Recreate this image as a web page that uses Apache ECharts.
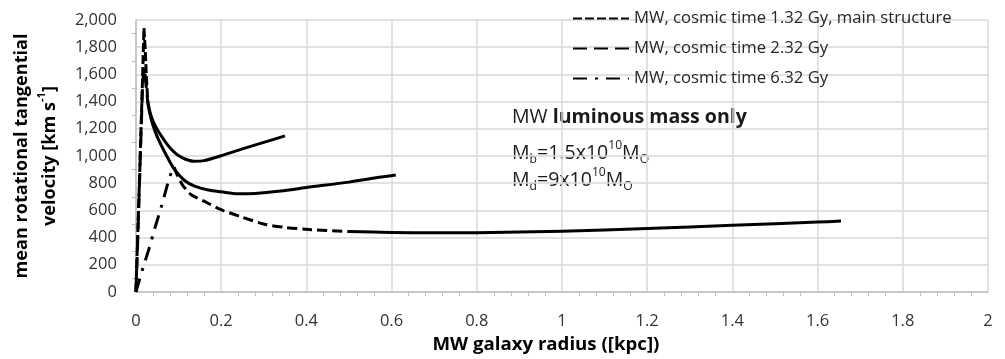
<!DOCTYPE html>
<html>
<head>
<meta charset="utf-8">
<script src="https://cdn.jsdelivr.net/npm/echarts@6/dist/echarts.min.js"></script>
<style>
html,body{margin:0;padding:0;background:#fff;}
#chart{width:1005px;height:359px;}
</style>
</head>
<body>
<div id="chart"></div>
<script>
// ---------- data ----------
const seriesNames = [
  'MW, cosmic time 1.32 Gy, main structure',
  'MW, cosmic time 2.32 Gy',
  'MW, cosmic time 6.32 Gy'
];
// 1.32 Gy
const r132 = [0, 0.005, 0.010, 0.015, 0.019, 0.022, 0.025, 0.028, 0.033, 0.040, 0.050, 0.061, 0.070, 0.080, 0.090, 0.100, 0.115, 0.136, 0.160, 0.200, 0.250, 0.300, 0.350];
const v132 = [0, 480, 980, 1500, 1940, 1780, 1560, 1400, 1325, 1258, 1195, 1142, 1100, 1060, 1028, 1003, 978, 962, 966, 1002, 1052, 1100, 1148];
// 2.32 Gy
const r232 = [0, 0.004, 0.008, 0.012, 0.016, 0.020, 0.024, 0.028, 0.033, 0.040, 0.050, 0.061, 0.075, 0.091, 0.115, 0.138, 0.170, 0.200, 0.240, 0.280, 0.340, 0.400, 0.500, 0.576, 0.610];
const v232 = [0, 350, 750, 1150, 1550, 1650, 1520, 1390, 1310, 1228, 1142, 1070, 985, 900, 818, 778, 750, 737, 723, 725, 742, 768, 808, 845, 860];
// 6.32 Gy
const r632 = [0, 0.014, 0.030, 0.042, 0.061, 0.075, 0.084, 0.090, 0.097, 0.108, 0.115, 0.130, 0.160, 0.200, 0.250, 0.300, 0.350, 0.405, 0.500, 0.600, 0.700, 0.800, 1.000, 1.200, 1.400, 1.600, 1.655];
const v632 = [0, 150, 310, 443, 640, 800, 887, 918, 862, 795, 764, 715, 668, 605, 550, 500, 475, 460, 445, 438, 435, 436, 447, 466, 491, 514, 522];

const xTickLabels = ['0', '0.2', '0.4', '0.6', '0.8', '1', '1.2', '1.4', '1.6', '1.8', '2'];
const yTickLabels = ['0', '200', '400', '600', '800', '1,000', '1,200', '1,400', '1,600', '1,800', '2,000'];

// ---------- helpers ----------
const FAM = "'Open Sans'";
const cv = document.createElement('canvas').getContext('2d');
function fit(parts, target) {
  let w = 0;
  parts.forEach(p => { cv.font = p[1] + ' 100px ' + FAM; w += cv.measureText(p[0]).width; });
  return 100 * target / w;
}
function seg(xs, ys, a, b) {
  const out = [];
  for (let i = a; i <= b; i++) out.push([xs[i], ys[i]]);
  return out;
}

const tickFS = fit([['2,000', 'normal']], 42);
const yNameFS = fit([['mean rotational tangential', 'bold']], 245);
const xNameFS = fit([['MW galaxy radius ([kpc])', 'bold']], 227);
const legFS = fit([[seriesNames[0], 'normal']], 318);
const annFS = fit([['MW ', 'normal'], ['luminous mass only', 'bold']], 235);

const LW = 3;
function lineSeries(name, data, type, smooth) {
  return {
    name: name, type: 'line', data: data, symbol: 'none', showSymbol: false,
    smooth: smooth ? 0.3 : false,
    lineStyle: { color: '#000', width: LW, type: type, cap: 'butt', join: 'round' },
    itemStyle: { color: '#000' },
    emphasis: { disabled: true }, silent: true, animation: false
  };
}

const series = [
  lineSeries(seriesNames[0], seg(r132, v132, 0, 7), [9, 3], false),
  lineSeries(seriesNames[0], seg(r132, v132, 7, r132.length - 1), 'solid', true),
  lineSeries(seriesNames[1], seg(r232, v232, 0, 7), [14, 7], false),
  lineSeries(seriesNames[1], seg(r232, v232, 7, r232.length - 1), 'solid', true),
  lineSeries(seriesNames[2], seg(r632, v632, 0, 7), [14, 8, 3, 8], false),
  lineSeries(seriesNames[2], seg(r632, v632, 7, 18), [10, 5], true),
  lineSeries(seriesNames[2], seg(r632, v632, 18, r632.length - 1), 'solid', true)
];

const chart = echarts.init(document.getElementById('chart'), null, { renderer: 'canvas' });
chart.setOption({
  animation: false,
  backgroundColor: '#fff',
  textStyle: { fontFamily: FAM },
  grid: { left: 134, right: 17, top: 20, bottom: 64, containLabel: false },
  legend: {
    orient: 'vertical', left: 567, top: 5,
    itemWidth: 56, itemHeight: 14, itemGap: 13,
    selectedMode: false,
    itemStyle: { opacity: 0, color: 'rgba(0,0,0,0)', borderWidth: 0 },
    textStyle: { fontFamily: FAM, fontSize: legFS, color: '#262626' },
    data: seriesNames
  },
  xAxis: {
    type: 'value', min: 0, max: 2, interval: 0.2,
    axisLine: { show: true, lineStyle: { color: '#bfbfbf', width: 1.5 } },
    axisTick: { show: false },
    minorTick: { show: true, splitNumber: 5, length: 4, lineStyle: { color: '#bfbfbf', width: 1 } },
    splitLine: { show: true, lineStyle: { color: '#d9d9d9', width: 1.5 } },
    axisLabel: {
      margin: 21, fontFamily: FAM, fontSize: tickFS, color: '#333',
      formatter: v => xTickLabels[Math.round(v / 0.2)]
    },
    name: 'MW galaxy radius ([kpc])', nameLocation: 'middle', nameGap: 43,
    nameTextStyle: { fontFamily: FAM, fontWeight: 'bold', fontSize: xNameFS, color: '#000', padding: [0, 32, 0, 0] }
  },
  yAxis: {
    type: 'value', min: 0, max: 2000, interval: 200,
    axisLine: { show: true, lineStyle: { color: '#bfbfbf', width: 1.5 } },
    axisTick: { show: false },
    minorTick: { show: true, splitNumber: 2, length: 4, lineStyle: { color: '#bfbfbf', width: 1 } },
    splitLine: { show: true, lineStyle: { color: '#d9d9d9', width: 1.5 } },
    axisLabel: {
      margin: 19, fontFamily: FAM, fontSize: tickFS, color: '#333',
      formatter: v => yTickLabels[Math.round(v / 200)]
    },
    name: 'mean rotational tangential\nvelocity [km s{sup|-1}]',
    nameLocation: 'middle', nameRotate: 90, nameGap: 60,
    nameTextStyle: {
      fontFamily: FAM, fontWeight: 'bold', fontSize: yNameFS, color: '#000', lineHeight: 28,
      rich: { sup: { fontFamily: FAM, fontWeight: 'bold', fontSize: yNameFS * 0.62, verticalAlign: 'top', lineHeight: 28, color: '#000' } }
    }
  },
  graphic: [
    {
      type: 'text', x: 512, y: 117, silent: true,
      style: {
        text: '{n|MW }{b|luminous mass only}', verticalAlign: 'middle', align: 'left',
        rich: {
          n: { fontFamily: FAM, fontSize: annFS, fill: '#1a1a1a' },
          b: { fontFamily: FAM, fontSize: annFS, fontWeight: 'bold', fill: '#1a1a1a' }
        }
      }
    },
    {
      type: 'text', x: 512, y: 153, silent: true,
      style: {
        text: '{n|M}{sub|b}{n|=1.5x10}{sup|10}{n|M}{sub|O}', verticalAlign: 'middle', align: 'left',
        rich: {
          n: { fontFamily: FAM, fontSize: annFS, lineHeight: 26, verticalAlign: 'middle', fill: '#1a1a1a' },
          sup: { fontFamily: FAM, fontSize: annFS * 0.62, lineHeight: 26, verticalAlign: 'top', fill: '#1a1a1a' },
          sub: { fontFamily: FAM, fontSize: annFS * 0.62, lineHeight: 26, verticalAlign: 'bottom', fill: '#1a1a1a' }
        }
      }
    },
    {
      type: 'text', x: 512, y: 180, silent: true,
      style: {
        text: '{n|M}{sub|d}{n|=9x10}{sup|10}{n|M}{sub|O}', verticalAlign: 'middle', align: 'left',
        rich: {
          n: { fontFamily: FAM, fontSize: annFS, lineHeight: 26, verticalAlign: 'middle', fill: '#1a1a1a' },
          sup: { fontFamily: FAM, fontSize: annFS * 0.62, lineHeight: 26, verticalAlign: 'top', fill: '#1a1a1a' },
          sub: { fontFamily: FAM, fontSize: annFS * 0.62, lineHeight: 26, verticalAlign: 'bottom', fill: '#1a1a1a' }
        }
      }
    }
  ],
  series: series
});
</script>
</body>
</html>
